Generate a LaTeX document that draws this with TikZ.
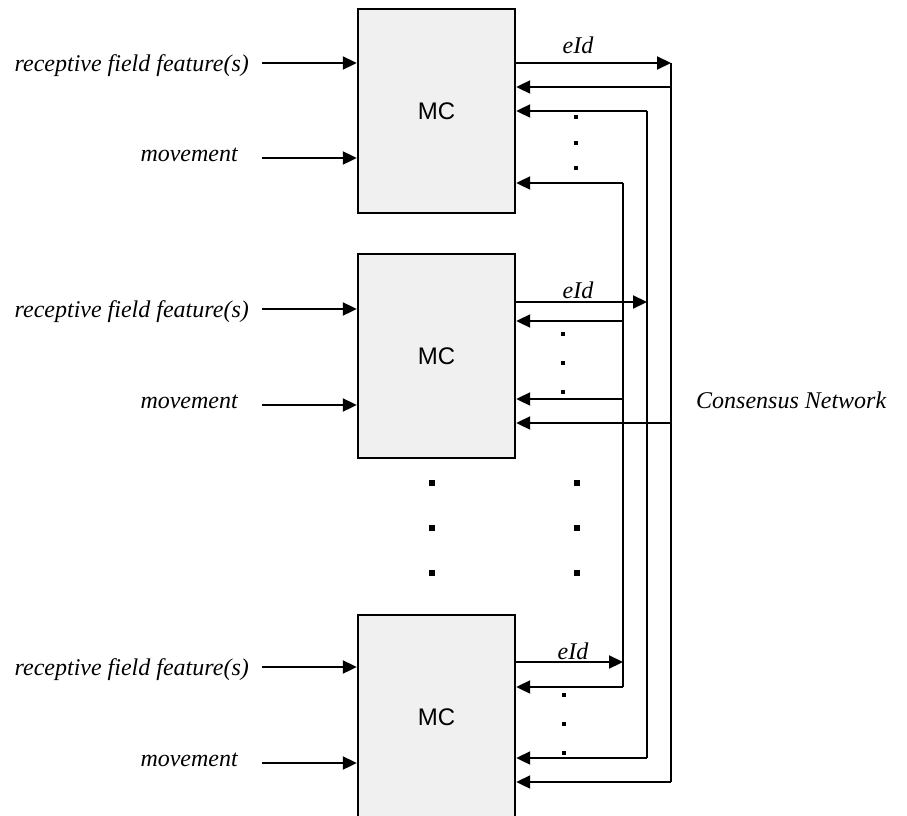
\documentclass[tikz,border=0pt]{standalone}
\usepackage{fontspec}
\setmainfont{Liberation Serif}
\newfontfamily\arialf{Liberation Sans}
\usetikzlibrary{arrows.meta}
\begin{document}
\begin{tikzpicture}[x=1pt,y=-1pt,
  mcbox/.style={draw=black, line width=2.4pt, fill=black!6, minimum width=157pt, minimum height=204pt, inner sep=0pt, font=\arialf\fontsize{24}{28}\selectfont},
  lbl/.style={font=\itshape\fontsize{24}{28}\selectfont, inner sep=0pt},
  arr/.style={line width=2.1pt, -{Triangle[length=14pt,width=13pt]}},
  ln/.style={line width=2.1pt},
  sdot/.style={fill=black, inner sep=0pt, minimum size=4pt},
  bdot/.style={fill=black, inner sep=0pt, minimum size=5.5pt}]
\useasboundingbox (0,0) rectangle (907,816);
% boxes
\node[mcbox] (box1) at (436.5,111) {MC};
\node[mcbox] (box2) at (436.5,356) {MC};
\node[mcbox] (box3) at (436.5,717) {MC};
% left inputs
\foreach \b/\r/\m in {1/63/158, 2/309/405, 3/667/763}{
  \node[lbl, anchor=base east] (rf\b) at (249,\r+8) {receptive field feature(s)};
  \node[lbl, anchor=base east] (mv\b) at (238,\m+3) {movement};
  \coordinate (rfs\b) at (262,\r);
  \coordinate (mvs\b) at (262,\m);
  \draw[arr] (rfs\b) -- (box\b.west |- rfs\b);
  \draw[arr] (mvs\b) -- (box\b.west |- mvs\b);
}
% bus lines
\coordinate (b1top) at (671,63);  \coordinate (b1bot) at (671,782);
\coordinate (b2top) at (647,111); \coordinate (b2bot) at (647,758);
\coordinate (b3top) at (623,183); \coordinate (b3bot) at (623,687);
\draw[ln] (b1top) -- (b1bot);
\draw[ln] (b2top) -- (b2bot);
\draw[ln] (b3top) -- (b3bot);
% box 1
\draw[arr] (box1.east |- b1top) -- (b1top);
\node[lbl, anchor=base] (eid1) at (578,53) {eId};
\coordinate (r11) at (671,87);
\draw[arr] (r11) -- (box1.east |- r11);
\draw[arr] (b2top) -- (box1.east |- b2top);
\draw[arr] (b3top) -- (box1.east |- b3top);
\foreach \y in {117,143,168} \node[sdot] at (576,\y) {};
% box 2
\coordinate (e2) at (647,302);
\draw[arr] (box2.east |- e2) -- (e2);
\node[lbl, anchor=base] (eid2) at (578,298) {eId};
\coordinate (r21) at (623,321);
\coordinate (r22) at (623,399);
\coordinate (r23) at (671,423);
\draw[arr] (r21) -- (box2.east |- r21);
\draw[arr] (r22) -- (box2.east |- r22);
\draw[arr] (r23) -- (box2.east |- r23);
\foreach \y in {334,363,392} \node[sdot] at (563,\y) {};
% box 3
\coordinate (e3) at (623,662);
\draw[arr] (box3.east |- e3) -- (e3);
\node[lbl, anchor=base] (eid3) at (573,659) {eId};
\draw[arr] (b3bot) -- (box3.east |- b3bot);
\draw[arr] (b2bot) -- (box3.east |- b2bot);
\draw[arr] (b1bot) -- (box3.east |- b1bot);
\foreach \y in {695,724,753} \node[sdot] at (564,\y) {};
% middle dots
\foreach \y in {483,528,573}{
  \node[bdot] at (432,\y) {};
  \node[bdot] at (577,\y) {};
}
% consensus label
\node[lbl, anchor=base west] (cons) at (696,408) {Consensus Network};
\end{tikzpicture}
\end{document}
